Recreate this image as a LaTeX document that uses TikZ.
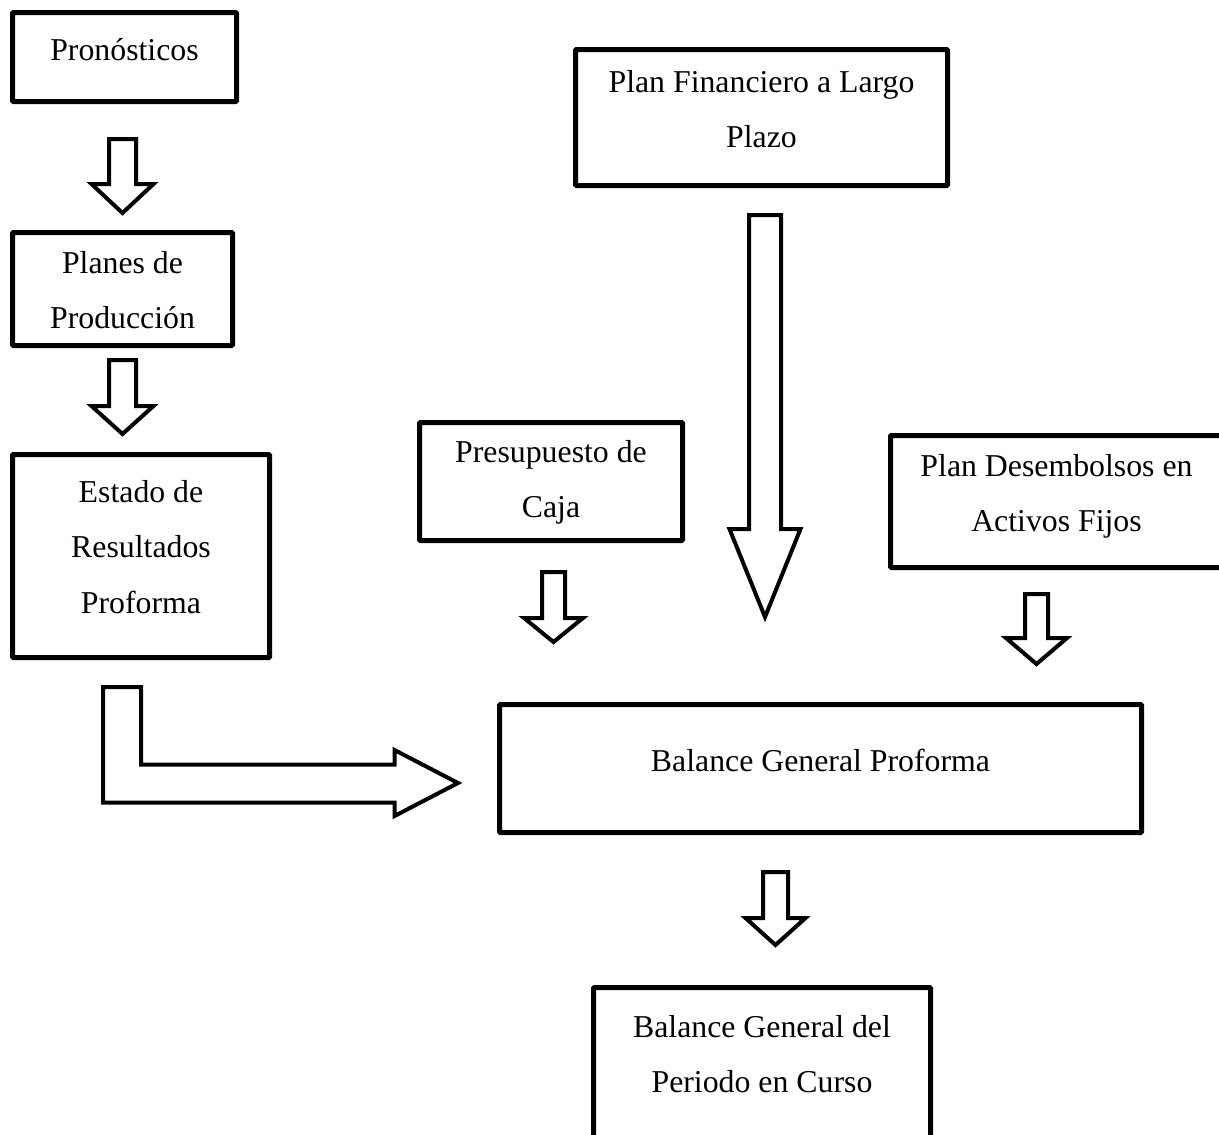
\documentclass[tikz,border=0pt]{standalone}
\usepackage{fontspec}
\setmainfont{Liberation Serif}
\usetikzlibrary{positioning}
% hollow block arrow pointing down: x centre, top, head base, tip, half shaft, half head
\newcommand{\downblock}[6]{%
  \draw[hollow] ({#1-#5},#2) -- ({#1+#5},#2) -- ({#1+#5},#3) -- ({#1+#6},#3)
    -- (#1,#4) -- ({#1-#6},#3) -- ({#1-#5},#3) -- cycle;}

\begin{document}
\begin{tikzpicture}[
  x=1pt, y=-1pt,
  every node/.style={font=\fontsize{31.8}{55.5}\selectfont},
  stagebox/.style={draw, line width=5pt, rounded corners=1pt, outer sep=0pt, inner sep=0pt},
  txt/.style={align=center, inner sep=0pt, outer sep=0pt},
  hollow/.style={draw, line width=4pt, line join=miter, fill=white},
]
\useasboundingbox (0,0) rectangle (1219,1135);

% --- Boxes -----------------------------------------------------
\node[stagebox, minimum width=224pt, minimum height=89pt]  (prono)   at (124.5,57)    {};
\node[stagebox, minimum width=372pt, minimum height=136pt] (planfin) at (761.5,117.5) {};
\node[stagebox, minimum width=220pt, minimum height=113pt] (planes)  at (122.5,289)   {};
\node[stagebox, minimum width=263pt, minimum height=118pt] (presu)   at (551,481.5)   {};
\node[stagebox, minimum width=332pt, minimum height=132pt] (activos) at (1056.5,501.5) {};
\node[stagebox, minimum width=257pt, minimum height=203pt] (estado)  at (141,556)     {};
\node[stagebox, minimum width=642pt, minimum height=128pt] (bgp)     at (820.5,768.5) {};
\node[stagebox, minimum width=337pt, minimum height=170pt] (bgc)     at (762,1072.5)  {};

% --- Texts -----------------------------------------------------
\node[txt, below=25.5pt of prono.north]   (pronoT)   {Pronósticos};
\node[txt, below=20.5pt of planfin.north] (planfinT) {Plan Financiero a Largo\\Plazo};
\node[txt, below=18.5pt of planes.north]  (planesT)  {Planes de\\Producción};
\node[txt, below=17.5pt of presu.north]   (presuT)   {Presupuesto de\\Caja};
\node[txt, below=18.5pt of activos.north] (activosT) {Plan Desembolsos en\\Activos Fijos};
\node[txt, below=25.5pt of estado.north]  (estadoT)  {Estado de\\Resultados\\Proforma};
\node[txt, below=44.5pt of bgp.north]     (bgpT)     {Balance General Proforma};
\node[txt, below=27.5pt of bgc.north]     (bgcT)     {Balance General del\\Periodo en Curso};

% --- Block arrows ----------------------------------------------
\downblock{122.5}{139}{184}{213}{13.5}{31}
\downblock{122.5}{360}{406}{434}{13.5}{31}
\downblock{553.5}{572}{618}{642}{11.5}{29.5}
\downblock{765}{215}{529}{617}{16}{35.5}
\downblock{1036.5}{594}{638}{664}{11.5}{30.5}
\downblock{775.5}{872}{918}{945}{12.5}{30}

% Estado de Resultados -> Balance General Proforma (bent)
\draw[hollow] (103,687) -- (141,687) -- (141,764.5) -- (394.5,764.5) -- (394.5,750)
  -- (458,783) -- (394.5,816) -- (394.5,802.5) -- (103,802.5) -- cycle;

\end{tikzpicture}
\end{document}
